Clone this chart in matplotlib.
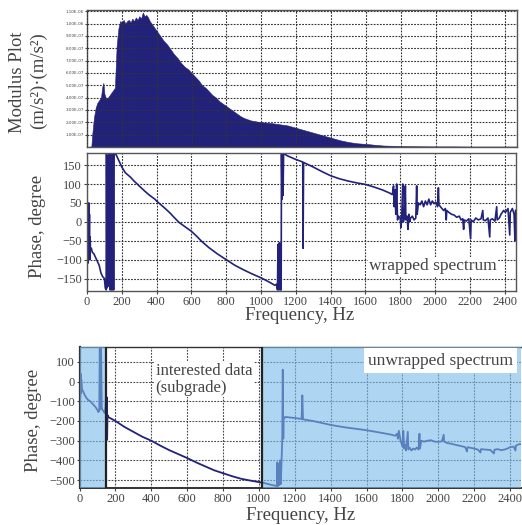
import matplotlib
matplotlib.use('Agg')
import matplotlib.pyplot as plt

plt.rcParams['font.family'] = ['Liberation Serif', 'DejaVu Serif']

# modulus spectrum, values in 1e-7 (m/s^2)^2
f_mod = [0, 25, 30, 40, 50, 60, 70, 80, 88, 94, 100, 110, 120, 130, 140, 150, 160, 170, 180, 190,
         200, 210, 220, 230, 240, 250, 260, 270, 280, 290, 300, 310, 320, 330, 340, 350, 360, 370,
         380, 390, 400, 420, 440, 460, 480, 500, 520, 540, 560, 580, 600, 620, 640, 660, 680, 700,
         720, 740, 760, 780, 800, 820, 840, 860, 880, 900, 920, 940, 960, 980, 1000, 1050, 1100,
         1150, 1200, 1250, 1300, 1350, 1400, 1450, 1500, 1550, 1600, 1650, 1700, 1750, 1800, 1900,
         2000, 2100, 2200, 2300, 2400, 2470]
mod_val = [0, 0.05, 1.0, 2.4, 3.2, 3.6, 3.8, 4.0, 4.9, 5.2, 4.3, 3.9, 4.0, 4.2, 4.4, 4.6, 4.8, 8.2,
           9.6, 10.2, 10.1, 10.3, 10.0, 10.2, 10.3, 10.1, 10.4, 10.2, 10.5, 10.3, 10.6, 10.4, 10.9,
           10.6, 10.7, 10.5, 10.2, 10.0, 9.8, 9.6, 9.4, 9.0, 8.6, 8.3, 7.9, 7.5, 7.2, 6.8, 6.5, 6.3,
           6.0, 5.7, 5.4, 5.0, 4.8, 4.5, 4.2, 4.0, 3.7, 3.5, 3.3, 3.1, 2.9, 2.7, 2.5, 2.35, 2.25,
           2.15, 2.1, 2.05, 2.0, 1.95, 1.85, 1.75, 1.55, 1.35, 1.15, 0.95, 0.75, 0.55, 0.4, 0.3,
           0.25, 0.18, 0.12, 0.1, 0.08, 0.06, 0.05, 0.05, 0.04, 0.04, 0.04, 0.04]

# wrapped phase, degree
f_wrap = [0, 2, 4, 6, 8, 10, 12, 14, 16, 18, 20, 25, 30, 40, 50, 60, 70, 80, 90, 100, 105, 110,
          112, 115, 118, 122, 126, 130, 133, 136, 140, 143, 146, 150, 153, 156, 160, 165, 175,
          190, 200, 220, 250, 270, 300, 330, 360, 390, 400, 420, 450, 480, 500, 530, 560, 600,
          630, 660, 700, 750, 800, 850, 900, 950, 1000, 1050, 1080, 1090, 1095, 1098, 1102, 1106,
          1110, 1113, 1116, 1118, 1121, 1124, 1127, 1130, 1140, 1150, 1200, 1230, 1240, 1242,
          1245, 1300, 1350, 1400, 1450, 1500, 1550, 1600, 1650, 1700, 1720, 1740, 1755, 1762,
          1766, 1770, 1775, 1780, 1785, 1790, 1800, 1805, 1810, 1815, 1818, 1825, 1830, 1833,
          1840, 1845, 1850, 1855, 1860, 1870, 1880, 1890, 1895, 1898, 1905, 1915, 1925, 1935,
          1945, 1955, 1965, 1975, 1985, 1995, 2005, 2015, 2020, 2023, 2035, 2050, 2060, 2065,
          2068, 2080, 2095, 2110, 2125, 2140, 2150, 2160, 2165, 2168, 2180, 2195, 2205, 2208,
          2220, 2235, 2250, 2265, 2275, 2278, 2290, 2305, 2315, 2318, 2330, 2345, 2355, 2358,
          2370, 2380, 2395, 2405, 2420, 2430, 2433, 2445, 2455, 2460, 2463, 2470]
ph_wrap = [-20, 45, -110, 30, -90, 50, -60, 20, -100, -40, -75, -70, -80, -85, -95, -105, -115,
           -135, -145, -150, -175, -180, 180, -175, 175, -170, 180, 60, -180, 180, -180, 150,
           -180, 180, -180, 175, 180, 180, 170, 155, 145, 130, 118, 108, 95, 82, 70, 60, 55, 47,
           35, 22, 12, -2, -12, -25, -38, -52, -68, -85, -100, -115, -127, -138, -148, -160,
           -168, -165, -180, -60, -180, -55, -180, -65, -180, 180, 60, 180, 70, 180, 178, 175,
           165, 160, 158, -70, 157, 145, 133, 122, 114, 108, 103, 99, 92, 84, 80, 76, 72, 95,
           40, 85, 20, 100, 5, 15, 10, -15, 25, 100, 0, 10, 95, 5, 15, -20, 20, 0, 10, 15, 5,
           10, 95, 20, 50, 45, 55, 40, 55, 45, 60, 45, 55, 48, 52, 40, 90, 45, 38, 30, 35, 5,
           30, 25, 20, 18, 12, 15, 5, 8, -20, 5, 2, 8, -45, 5, 0, 10, 5, 8, 30, 5, 3, 10, -40,
           5, 8, 2, 40, 5, 10, 20, 30, 25, 35, -35, 25, 35, 20, -50, 30, 32]

# unwrapped phase, degree
f_unwrap = [0, 2, 4, 6, 8, 10, 14, 20, 30, 40, 50, 60, 70, 80, 90, 100, 105, 110, 113, 116, 120,
            124, 128, 135, 140, 145, 148, 150, 152, 154, 156, 160, 170, 200, 250, 300, 350, 400,
            450, 500, 550, 600, 650, 700, 750, 800, 850, 900, 950, 1000, 1030, 1060, 1090, 1100,
            1103, 1106, 1110, 1114, 1118, 1122, 1126, 1130, 1133, 1136, 1138, 1140, 1150, 1200,
            1238, 1242, 1246, 1300, 1350, 1400, 1450, 1500, 1550, 1600, 1650, 1700, 1740, 1760,
            1770, 1775, 1780, 1790, 1800, 1805, 1810, 1815, 1820, 1830, 1833, 1840, 1850, 1860,
            1870, 1880, 1890, 1895, 1898, 1905, 1920, 1940, 1960, 1980, 2000, 2020, 2030, 2033,
            2050, 2075, 2100, 2130, 2150, 2160, 2163, 2200, 2220, 2235, 2238, 2260, 2290, 2310,
            2313, 2330, 2350, 2370, 2390, 2400, 2420, 2430, 2433, 2450, 2470, 2490]
ph_unwrap = [-20, 50, -80, 40, -60, 10, -40, -50, -70, -85, -95, -100, -110, -120, -130, -145,
             -155, -150, 175, -140, 175, -130, -145, -150, -160, -130, -60, -300, -80, -290,
             -170, -180, -185, -200, -230, -255, -280, -300, -325, -348, -368, -388, -410, -430,
             -450, -465, -480, -493, -502, -510, -515, -522, -528, -530, -410, -530, -420, -525,
             -400, -520, -410, -300, 60, -290, -180, -185, -180, -185, -190, -70, -192, -200,
             -210, -220, -228, -235, -241, -247, -255, -263, -270, -275, -265, -290, -250, -300,
             -330, -250, -340, -320, -350, -255, -345, -335, -350, -340, -345, -335, -345, -265,
             -340, -300, -305, -300, -298, -305, -306, -303, -270, -305, -312, -316, -322, -328,
             -333, -355, -333, -340, -345, -360, -343, -345, -347, -365, -346, -343, -348, -345,
             -338, -333, -330, -350, -325, -318, -316, -318]

# frequency bands of the bottom plot
band_left = (0, 150)
band_right = (1020, 2470)

x_ticks = list(range(0, 2401, 200))
wrap_ticks = [-150, -100, -50, 0, 50, 100, 150]
unwrap_ticks = [-500, -400, -300, -200, -100, 0, 100]
mod_ticks = [i * 1e-7 for i in range(1, 12)]

navy = '#22227a'
grid_kw = dict(color='#333333', linestyle=(0, (1.6, 1.2)), linewidth=0.8)
W, H = 522, 525


def px_axes(fig, left, top, right, bottom):
    return fig.add_axes([left / W, (H - bottom) / H, (right - left) / W, (bottom - top) / H])


def style_axis(ax, spine_color='#555555'):
    for s in ax.spines.values():
        s.set_color(spine_color)
        s.set_linewidth(1.0)
    ax.tick_params(direction='out', length=2.5, width=0.8, colors='#444444',
                   labelsize=9, pad=1)
    ax.grid(True, **grid_kw)


fig = plt.figure(figsize=(W / 100, H / 100), dpi=100)

# top: modulus
ax1 = px_axes(fig, 87, 10, 517, 147)
ax1.fill_between(f_mod, [v * 1e-7 for v in mod_val], 0, color=navy,
                 linewidth=0.4, edgecolor=navy, zorder=1)
ax1.set_xlim(0, 2466)
ax1.set_ylim(0, 1.11e-6)
ax1.set_xticks(x_ticks)
ax1.set_yticks(mod_ticks)
ax1.set_yticklabels([f'{v:.2E}' for v in mod_ticks], family='DejaVu Sans')
style_axis(ax1)
ax1.tick_params(axis='y', labelsize=3, length=1.5, pad=0.5)
ax1.tick_params(axis='x', labelbottom=False, length=0)
ax1.set_axisbelow(False)

# middle: wrapped phase
ax2 = px_axes(fig, 87, 153, 516, 291)
ax2.plot(f_wrap, ph_wrap, color=navy, linewidth=1.2, zorder=2)
ax2.set_xlim(0, 2466)
ax2.set_ylim(-183, 182)
ax2.set_xticks(x_ticks)
ax2.set_yticks(wrap_ticks)
style_axis(ax2)
ax2.text(1990, -118, 'wrapped spectrum', fontsize=12.5, color='#444444', ha='center',
         va='center', zorder=4, bbox=dict(facecolor='white', edgecolor='none', pad=1))

# bottom: unwrapped phase
ax3 = px_axes(fig, 79.5, 347, 521, 488)
ax3.plot(f_unwrap, ph_unwrap, color=navy, linewidth=1.3, zorder=2)
for lo, hi in [band_left, band_right]:
    ax3.axvspan(lo, hi, color='#7cbce9', alpha=0.62, linewidth=0, zorder=3)
for xb in [band_left[1], band_right[0]]:
    ax3.axvline(xb, color='#222222', linewidth=1.6, zorder=4)
ax3.set_xlim(0, 2461)
ax3.set_ylim(-540, 175)
ax3.set_xticks(x_ticks)
ax3.set_yticks(unwrap_ticks)
style_axis(ax3, spine_color='#333333')
ax3.grid(True, color='#4a4a4a', linestyle=(0, (1.6, 1.2)), linewidth=0.8)
ax3.spines['left'].set_linewidth(1.6)
ax3.spines['bottom'].set_linewidth(1.4)
ax3.spines['right'].set_visible(False)
ax3.text(425, 93, 'interested data\n(subgrade)', fontsize=12, color='#444444', ha='left',
         va='top', linespacing=1.05, zorder=5,
         bbox=dict(facecolor='white', edgecolor='none', pad=1))
ax3.text(1610, 106, 'unwrapped spectrum', fontsize=12.5, color='#444444', ha='left',
         va='center', zorder=5, bbox=dict(facecolor='white', edgecolor='none', pad=3))

# axis titles
lab = dict(color='#444444', ha='center', va='center')
fig.text(18 / W, 1 - 82 / H, 'Modulus Plot', rotation=90, fontsize=13.5, **lab)
fig.text(38 / W, 1 - 81 / H, '(m/s²)·(m/s²)', rotation=90, fontsize=13.5, **lab)
fig.text(37 / W, 1 - 226 / H, 'Phase, degree', rotation=90, fontsize=13.5, **lab)
fig.text(300 / W, 1 - 316 / H, 'Frequency, Hz', fontsize=13.5, **lab)
fig.text(34 / W, 1 - 420 / H, 'Phase, degree', rotation=90, fontsize=13.5, **lab)
fig.text(301 / W, 1 - 516 / H, 'Frequency, Hz', fontsize=13.5, **lab)

fig.savefig('out.png', dpi=100)
